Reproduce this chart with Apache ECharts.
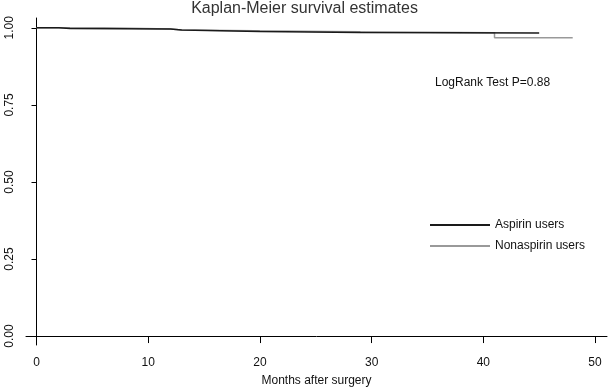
<!DOCTYPE html>
<html>
<head>
<meta charset="utf-8">
<script src="https://cdn.jsdelivr.net/npm/echarts@6/dist/echarts.min.js"></script>
<style>
  html, body { margin: 0; padding: 0; background: #fff; }
  #chart { width: 609px; height: 390px; }
</style>
</head>
<body>
<div id="chart"></div>
<script>
// KM step curves: [month, survival]
const aspirinData = [[0, 1], [2, 0.998], [3, 0.996], [12, 0.993], [13, 0.988], [20, 0.985], [29, 0.983], [45, 0.983]];
const nonaspirinData = [[0, 1], [6, 0.996], [12, 0.993], [13, 0.988], [26, 0.984], [41, 0.968], [48, 0.968]];
const xTicks = [0, 10, 20, 30, 40, 50];
const yTicks = [0, 0.25, 0.5, 0.75, 1];
const seriesNames = ['Aspirin users', 'Nonaspirin users'];

const chart = echarts.init(document.getElementById('chart'));
const font = 'Liberation Sans, Arial, sans-serif';

const option = {
  animation: false,
  title: {
    text: 'Kaplan-Meier survival estimates',
    left: 'center',
    top: 0,
    padding: [1, 5],
    textStyle: { fontFamily: font, fontSize: 16, fontWeight: 'normal', color: '#333' }
  },
  grid: { left: 26, right: 2, top: 18, bottom: 45, outerBoundsMode: 'none' },
  legend: {
    data: seriesNames,
    orient: 'vertical',
    left: 430,
    top: 218,
    padding: 0,
    itemWidth: 60,
    itemHeight: 2,
    itemGap: 7,
    icon: 'rect',
    textStyle: { fontFamily: font, fontSize: 12, color: '#111', lineHeight: 14 }
  },
  xAxis: {
    type: 'value',
    min: -0.94,
    max: 51.07,
    name: 'Months after surgery',
    nameLocation: 'middle',
    nameGap: 30,
    nameTextStyle: { fontFamily: font, fontSize: 12, color: '#111' },
    axisLine: { lineStyle: { color: '#000', width: 1 } },
    axisTick: { customValues: xTicks, length: 7, lineStyle: { color: '#000' } },
    axisLabel: { customValues: xTicks, margin: 12, fontFamily: font, fontSize: 12, color: '#111' },
    splitLine: { show: false }
  },
  yAxis: {
    type: 'value',
    min: -0.029,
    max: 1.032,
    axisLine: { show: true, lineStyle: { color: '#000', width: 1 } },
    axisTick: { show: true, customValues: yTicks, length: 5, lineStyle: { color: '#000' } },
    axisLabel: {
      customValues: yTicks,
      rotate: 90,
      margin: 10,
      fontFamily: font,
      fontSize: 12,
      color: '#111',
      formatter: v => v.toFixed(2)
    },
    splitLine: { show: false }
  },
  graphic: [{
    type: 'text',
    left: 435,
    top: 77,
    style: { text: 'LogRank Test P=0.88', fontFamily: font, fontSize: 12, fill: '#111' }
  }],
  series: [
    {
      name: seriesNames[1],
      type: 'line',
      step: 'end',
      symbol: 'none',
      data: nonaspirinData,
      lineStyle: { color: '#999', width: 1.5 },
      itemStyle: { color: '#999' },
      z: 1
    },
    {
      name: seriesNames[0],
      type: 'line',
      step: 'end',
      symbol: 'none',
      data: aspirinData,
      lineStyle: { color: '#1a1a1a', width: 1.5 },
      itemStyle: { color: '#1a1a1a' },
      z: 2
    }
  ]
};
chart.setOption(option);
</script>
</body>
</html>
